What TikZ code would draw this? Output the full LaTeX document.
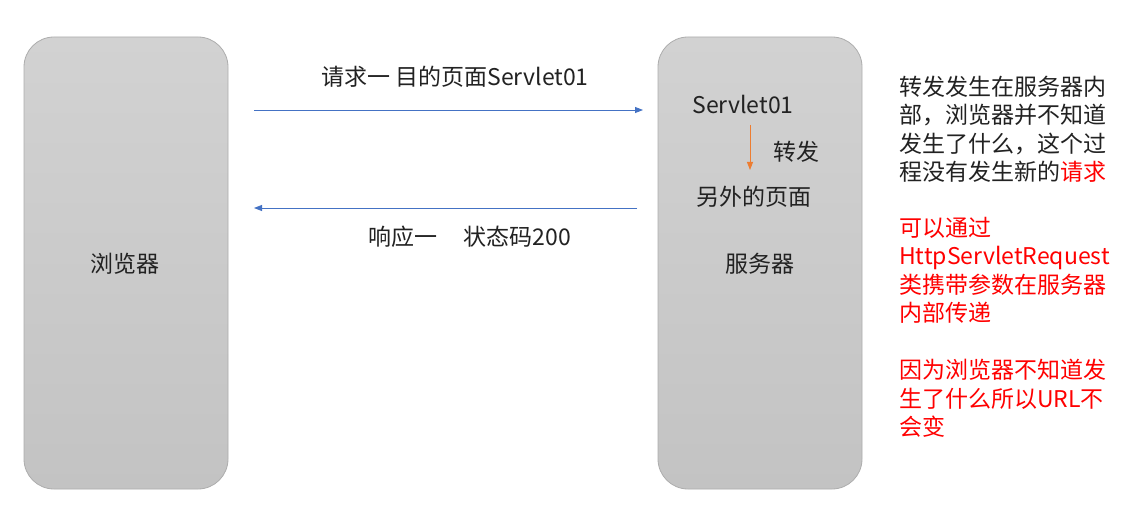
\documentclass[tikz,border=0pt]{standalone}
\usepackage{fontspec}
\setmainfont{Noto Sans CJK SC}
\usetikzlibrary{arrows.meta}
\definecolor{boxtop}{HTML}{D2D2D2}
\definecolor{boxbot}{HTML}{C3C3C3}
\definecolor{boxline}{HTML}{ADADAD}
\definecolor{arrblue}{HTML}{4472C4}
\definecolor{arrorange}{HTML}{ED7D31}
\definecolor{txt}{HTML}{222222}
\definecolor{note}{HTML}{FF0000}
\tikzset{
  panel/.style={draw=boxline, line width=0.8pt, rounded corners=30pt,
    top color=boxtop, bottom color=boxbot, minimum width=204pt, minimum height=452pt, inner sep=0pt},
  lbl/.style={text=txt, inner sep=0pt, font=\fontsize{23}{28.5}\selectfont},
  para/.style={inner sep=0pt, align=left, anchor=base west, font=\fontsize{23}{28.5}\selectfont},
  flow/.style={draw=arrblue, line width=0.9pt, -{Triangle[length=8pt,width=6pt]}},
  fwd/.style={draw=arrorange, line width=0.9pt, -{Triangle[length=8pt,width=6pt]}}
}
\begin{document}
\begin{tikzpicture}[x=1pt,y=-1pt]
\useasboundingbox[fill=white] (0,0) rectangle (1146,513);
\node[panel] (browser) at (126,263) {};
\node[panel] (server) at (760,263) {};
\node[lbl] (blbl) at (125,264) {浏览器};
\node[lbl] (slbl) at (760,264) {服务器};
\node[lbl] (req) at (455,77) {请求一 目的页面Servlet01};
\node[lbl] (resp) at (470,237) {响应一\hspace{26pt}状态码200};
\node[lbl] (s01) at (743,104) {Servlet01};
\node[lbl] (zf) at (796,152) {转发};
\node[lbl] (other) at (754,197) {另外的页面};
\coordinate (r1) at (254,110);
\coordinate (r2) at (643,110);
\coordinate (p1) at (637,208);
\coordinate (p2) at (254,208);
\coordinate (f1) at (750,125);
\coordinate (f2) at (750,170);
\draw[flow] (r1) -- (r2);
\draw[flow] (p1) -- (p2);
\draw[fwd] (f1) -- (f2);
\node[para, text=txt] (n1) at (899,180.7) {转发发生在服务器内\\部，浏览器并不知道\\发生了什么，这个过\\程没有发生新的\textcolor{note}{请求}};
\node[para, text=note] (n2) at (899,321.7) {可以通过\\HttpServletRequest\\类携带参数在服务器\\内部传递};
\node[para, text=note] (n3) at (899,435.7) {因为浏览器不知道发\\生了什么所以URL不\\会变};
\end{tikzpicture}
\end{document}
